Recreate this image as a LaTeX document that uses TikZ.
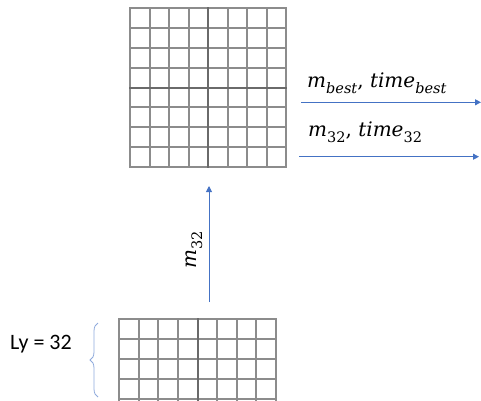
\documentclass[tikz,border=0pt]{standalone}
\usepackage{fontspec}
\newfontfamily\calib{Carlito}
\newfontfamily\mfont{DejaVu Serif}
\usetikzlibrary{arrows.meta,decorations.pathreplacing}
\definecolor{arrowblue}{HTML}{4472C4}
\definecolor{braceblue}{HTML}{8FAADC}
\definecolor{gridgray}{HTML}{8C8C8C}
\definecolor{griddark}{HTML}{6A6A6A}
\newcommand\subsz{\fontsize{14.5}{16}\selectfont}
\newcommand\msub[2]{\textit{#1}\raisebox{-0.3em}{\subsz\textit{#2}}}
\newcommand\msubn[2]{\textit{#1}\raisebox{-0.3em}{\subsz #2}}
\tikzset{
  gridline/.style={draw=gridgray, line width=2pt},
  gridmid/.style={draw=griddark, line width=2.4pt},
  flow/.style={draw=arrowblue, line width=0.9pt, -{Triangle[length=6pt,width=6pt]}},
  lbl/.style={inner sep=0pt, font=\mfont\fontsize{20}{24}\selectfont},
}
\begin{document}
\begin{tikzpicture}[x=1pt,y=-1pt]
\useasboundingbox (0,0) rectangle (481,400);
% top grid 8x8
\node[minimum width=156pt, minimum height=159pt, inner sep=0pt, anchor=north west] (topgrid) at (130,8) {};
\draw[gridline]
  (130,7) -- (130,168) (150,7) -- (150,168) (169,7) -- (169,168)
  (189,7) -- (189,168) (228,7) -- (228,168)
  (247,7) -- (247,168) (267,7) -- (267,168) (286,7) -- (286,168)
  (129,8) -- (287,8) (129,28) -- (287,28) (129,48) -- (287,48)
  (129,68) -- (287,68) (129,107) -- (287,107)
  (129,127) -- (287,127) (129,147) -- (287,147) (129,167) -- (287,167);
\draw[gridmid] (208,7) -- (208,168) (129,88) -- (287,88);
% bottom grid 8 columns
\node[minimum width=157pt, minimum height=81pt, inner sep=0pt, anchor=north west] (botgrid) at (119,319) {};
\draw[gridline]
  (119,318) -- (119,401) (139,318) -- (139,401) (158,318) -- (158,401)
  (178,318) -- (178,401) (217,318) -- (217,401)
  (237,318) -- (237,401) (256,318) -- (256,401) (276,318) -- (276,401)
  (118,319) -- (277,319) (118,339) -- (277,339) (118,359) -- (277,359)
  (118,379) -- (277,379) (118,399) -- (277,399);
\draw[gridmid] (198,318) -- (198,401);
% brace and label
\coordinate (btop) at (98,323);
\coordinate (bbot) at (98,397);
\draw[braceblue, line width=0.8pt, decorate, decoration={brace, amplitude=8pt, mirror}] (btop) -- (bbot);
\node[inner sep=0pt, font=\calib\fontsize{22}{26}\selectfont] (ly) at (41,344) {Ly = 32};
% vertical arrow
\coordinate (vstart) at (209,302);
\coordinate (vend) at (209,186);
\draw[flow] (vstart) -- (vend);
\node[lbl, rotate=90] (m32v) at (194,250) {\msubn{m}{32}};
% right arrows
\coordinate (a1s) at (301,102.3);
\coordinate (a1e) at (481,102.3);
\coordinate (a2s) at (299,156.7);
\coordinate (a2e) at (479,156.7);
\draw[flow] (a1s) -- (a1e);
\draw[flow] (a2s) -- (a2e);
\node[lbl, anchor=base west] (l1) at (307,87) {\msub{m}{best}, \msub{time}{best}};
\node[lbl, anchor=base west] (l2) at (308,136) {\msubn{m}{32}, \msubn{time}{32}};
\end{tikzpicture}
\end{document}
